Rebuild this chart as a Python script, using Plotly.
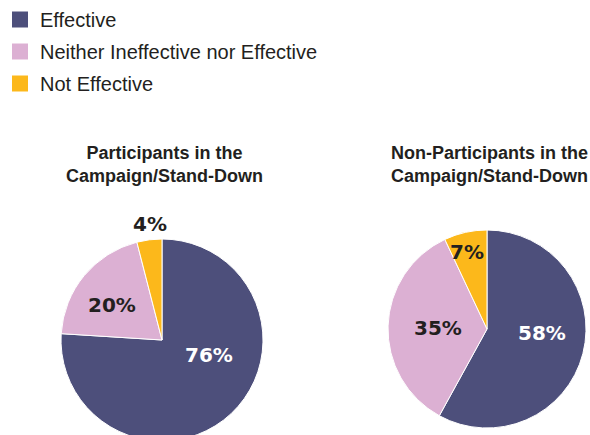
import plotly.graph_objects as go

# Survey response categories and shares (%)
categories = ["Effective", "Neither Ineffective nor Effective", "Not Effective"]
participants = [76, 20, 4]
non_participants = [58, 35, 7]
colors = ["#4d4f7b", "#dcb0d3", "#fcb81b"]
titles = ["Participants in the<br>Campaign/Stand-Down",
          "Non-Participants in the<br>Campaign/Stand-Down"]

W, H = 590, 445
NARROW = "Liberation Sans Narrow, Arial Narrow, Liberation Sans, sans-serif"
BOLD_WIDE = "DejaVu Sans, Verdana, sans-serif"


def px_x(x):
    return x / W


def px_y(y):
    return 1 - y / H


# pie placement: centre (px) and radius (px)
pies = [
    dict(values=participants, cx=162, cy=340, r=101,
         label_xy=[(209, 355), (112, 305), (150, 224)],
         label_colors=["white", "#231f20", "#231f20"]),
    dict(values=non_participants, cx=487, cy=329, r=99,
         label_xy=[(542, 333), (438, 328), (467, 252)],
         label_colors=["white", "#231f20", "#231f20"]),
]

fig = go.Figure()
annotations = []

for p, title in zip(pies, titles):
    fig.add_trace(go.Pie(
        labels=categories,
        values=p["values"],
        sort=False,
        direction="clockwise",
        rotation=0,
        marker=dict(colors=colors, line=dict(color="white", width=1)),
        textinfo="none",
        hoverinfo="label+percent",
        showlegend=False,
        domain=dict(x=[px_x(p["cx"] - p["r"]), px_x(p["cx"] + p["r"])],
                    y=[px_y(p["cy"] + p["r"]), px_y(p["cy"] - p["r"])]),
    ))
    for v, (lx, ly), c in zip(p["values"], p["label_xy"], p["label_colors"]):
        annotations.append(dict(
            x=px_x(lx), y=px_y(ly), xref="paper", yref="paper",
            text=f"<b>{v}%</b>", showarrow=False,
            font=dict(family=BOLD_WIDE, size=20, color=c),
            xanchor="center", yanchor="middle",
        ))
    annotations.append(dict(
        x=px_x(p["cx"] + 2), y=px_y(141), xref="paper", yref="paper",
        text=f"<b>{title}</b>", showarrow=False,
        font=dict(family=NARROW, size=18, color="#231f20"),
        xanchor="center", yanchor="top", align="center",
    ))

# legend entries drawn as square swatches
for i, (name, col) in enumerate(zip(categories, colors)):
    fig.add_trace(go.Scatter(
        x=[None], y=[None], mode="markers", name=name,
        legendgroup=f"g{i}",
        marker=dict(symbol="square", size=16, color=col, line=dict(width=0)),
    ))

fig.update_layout(
    width=W, height=H,
    margin=dict(l=0, r=0, t=0, b=0),
    paper_bgcolor="white", plot_bgcolor="white",
    xaxis=dict(visible=False), yaxis=dict(visible=False),
    showlegend=True,
    legend=dict(
        x=0.0, y=1.0, xanchor="left", yanchor="top",
        font=dict(family=NARROW, size=20, color="#231f20"),
        traceorder="grouped", tracegroupgap=3,
        bgcolor="rgba(0,0,0,0)",
    ),
    annotations=annotations,
)

fig.write_html(
    "out.html",
    post_script="document.documentElement.style.overflow='hidden';"
                "document.body.style.overflow='hidden';document.body.style.margin='0';",
)
